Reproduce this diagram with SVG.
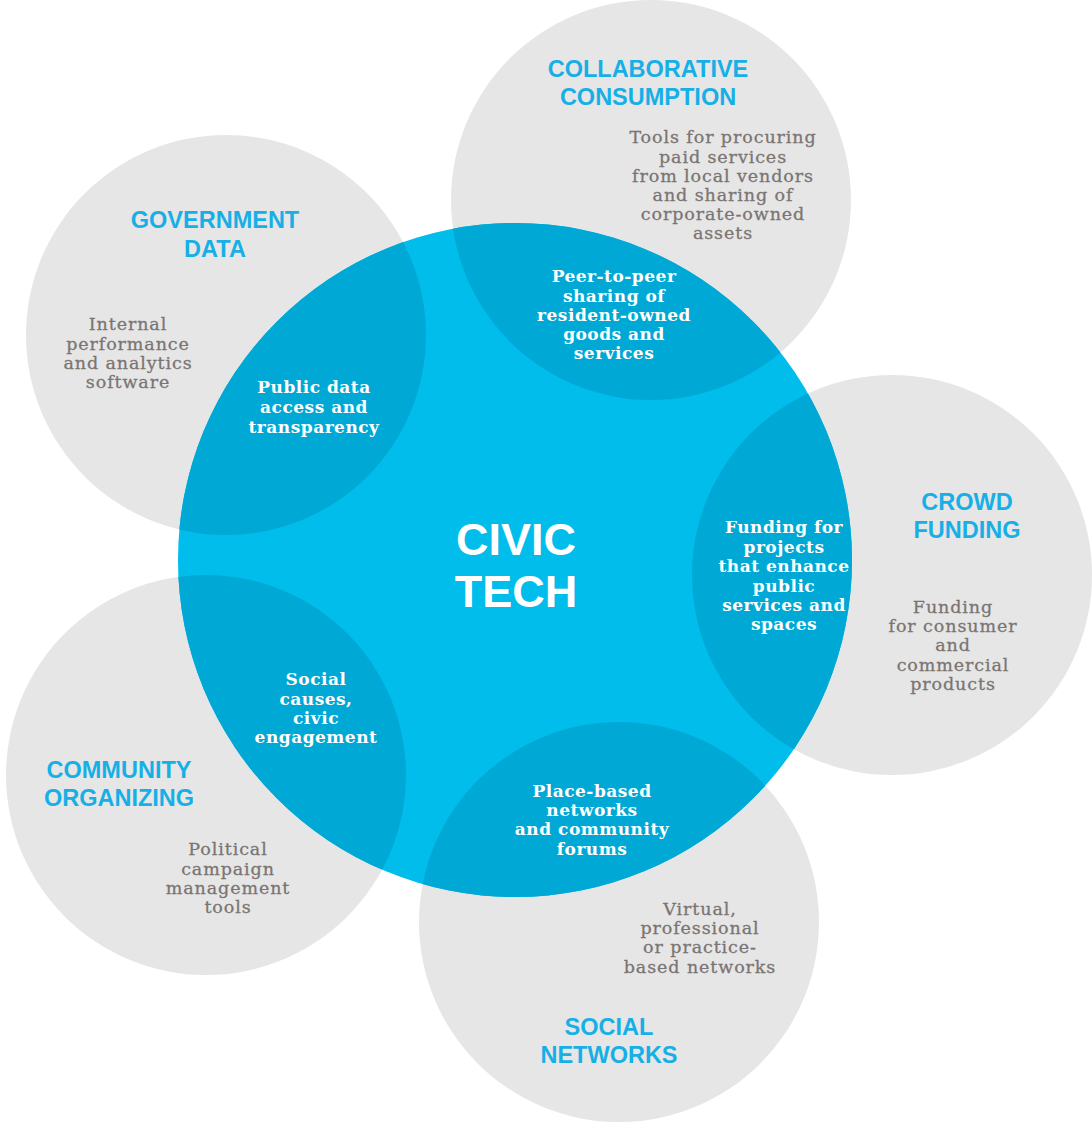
<svg xmlns="http://www.w3.org/2000/svg" width="1092" height="1124" viewBox="0 0 1092 1124">
<style>
.grey{fill:#e6e6e6}
.over{fill:#00a9d5}
.head{font-family:"Liberation Sans",Arial,sans-serif;font-weight:bold;font-size:23.5px;fill:#16afe6;text-anchor:middle}
.desc{font-family:"DejaVu Serif",serif;font-size:17.5px;letter-spacing:0.9px;fill:#7a7573;stroke:#7a7573;stroke-width:0.3px;text-anchor:middle}
.inner{font-family:"DejaVu Serif",serif;font-weight:bold;font-size:17px;letter-spacing:0.5px;fill:#ffffff;text-anchor:middle}
.core{font-family:"Liberation Sans",Arial,sans-serif;font-weight:bold;font-size:45px;fill:#ffffff;text-anchor:middle}
</style>
<defs>
<clipPath id="bigclip"><circle cx="515" cy="560" r="337"/></clipPath>
</defs>
<rect width="1092" height="1124" fill="#ffffff"/>
<g id="circles-grey">
<circle class="grey" cx="226" cy="335" r="200"/>
<circle class="grey" cx="651" cy="200" r="200"/>
<circle class="grey" cx="892" cy="575" r="200"/>
<circle class="grey" cx="619" cy="922" r="200"/>
<circle class="grey" cx="206" cy="775" r="200"/>
</g>
<g id="civic-tech">
<circle cx="515" cy="560" r="337" fill="#00bdeb"/>
<g clip-path="url(#bigclip)">
<circle class="over" cx="226" cy="335" r="200"/>
<circle class="over" cx="651" cy="200" r="200"/>
<circle class="over" cx="892" cy="575" r="200"/>
<circle class="over" cx="619" cy="922" r="200"/>
<circle class="over" cx="206" cy="775" r="200"/>
</g>
<text class="core" x="516" y="555">CIVIC</text>
<text class="core" x="516" y="607">TECH</text>
</g>
<g id="connectors"></g>
<g id="government-data">
<text class="head" x="215" y="228">GOVERNMENT</text>
<text class="head" x="215" y="257">DATA</text>
<text class="desc" x="128"><tspan x="128" y="330">Internal</tspan><tspan x="128" y="350">performance</tspan><tspan x="128" y="369">and analytics</tspan><tspan x="128" y="388">software</tspan></text>
<text class="inner" x="314"><tspan x="314" y="393">Public data</tspan><tspan x="314" y="413">access and</tspan><tspan x="314" y="433">transparency</tspan></text>
</g>
<g id="collaborative-consumption">
<text class="head" x="648" y="77">COLLABORATIVE</text>
<text class="head" x="648" y="105">CONSUMPTION</text>
<text class="desc" x="723"><tspan x="723" y="143">Tools for procuring</tspan><tspan x="723" y="163">paid services</tspan><tspan x="723" y="182">from local vendors</tspan><tspan x="723" y="201">and sharing of</tspan><tspan x="723" y="220">corporate-owned</tspan><tspan x="723" y="239">assets</tspan></text>
<text class="inner" x="614"><tspan x="614" y="282">Peer-to-peer</tspan><tspan x="614" y="302">sharing of</tspan><tspan x="614" y="321">resident-owned</tspan><tspan x="614" y="340">goods and</tspan><tspan x="614" y="359">services</tspan></text>
</g>
<g id="crowd-funding">
<text class="head" x="967" y="510">CROWD</text>
<text class="head" x="967" y="538">FUNDING</text>
<text class="desc" x="953"><tspan x="953" y="613">Funding</tspan><tspan x="953" y="632">for consumer</tspan><tspan x="953" y="651">and</tspan><tspan x="953" y="671">commercial</tspan><tspan x="953" y="690">products</tspan></text>
<text class="inner" x="784"><tspan x="784" y="533">Funding for</tspan><tspan x="784" y="553">projects</tspan><tspan x="784" y="572">that enhance</tspan><tspan x="784" y="592">public</tspan><tspan x="784" y="611">services and</tspan><tspan x="784" y="630">spaces</tspan></text>
</g>
<g id="social-networks">
<text class="head" x="609" y="1035">SOCIAL</text>
<text class="head" x="609" y="1063">NETWORKS</text>
<text class="desc" x="700"><tspan x="700" y="915">Virtual,</tspan><tspan x="700" y="934">professional</tspan><tspan x="700" y="953">or practice-</tspan><tspan x="700" y="973">based networks</tspan></text>
<text class="inner" x="592"><tspan x="592" y="797">Place-based</tspan><tspan x="592" y="816">networks</tspan><tspan x="592" y="835">and community</tspan><tspan x="592" y="855">forums</tspan></text>
</g>
<g id="community-organizing">
<text class="head" x="119" y="778">COMMUNITY</text>
<text class="head" x="119" y="806">ORGANIZING</text>
<text class="desc" x="228"><tspan x="228" y="855">Political</tspan><tspan x="228" y="875">campaign</tspan><tspan x="228" y="894">management</tspan><tspan x="228" y="913">tools</tspan></text>
<text class="inner" x="316"><tspan x="316" y="685">Social</tspan><tspan x="316" y="705">causes,</tspan><tspan x="316" y="724">civic</tspan><tspan x="316" y="743">engagement</tspan></text>
</g>
</svg>
